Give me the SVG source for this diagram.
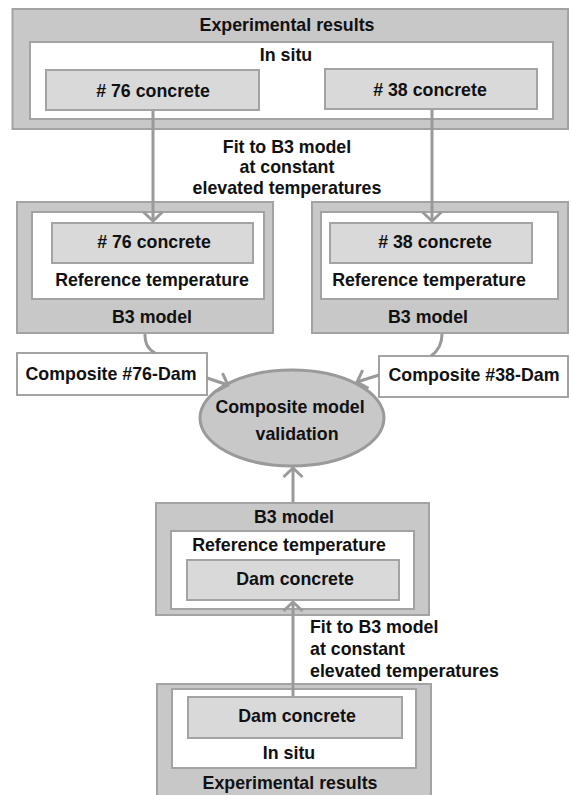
<svg xmlns="http://www.w3.org/2000/svg" width="571" height="795" viewBox="0 0 571 795">
<style>
text{font-family:"Liberation Sans",Arial,sans-serif;font-weight:bold;font-size:17.8px;fill:#111;text-anchor:middle;dominant-baseline:central}
.outer{fill:#c8c8c8;stroke:#a3a3a3;stroke-width:2}
.inner{fill:#fff;stroke:#a3a3a3;stroke-width:2}
.item{fill:#d9d9d9;stroke:#a3a3a3;stroke-width:2}
.lbl{fill:#fff;stroke:#a3a3a3;stroke-width:2}
.conn{fill:none;stroke:#9a9a9a;stroke-width:3}
.st{text-anchor:start}
</style>
<defs>
<marker id="v" markerUnits="userSpaceOnUse" viewBox="-1 -11 12 22" refX="9" refY="0" markerWidth="12" markerHeight="22" orient="auto" overflow="visible">
<path d="M0,-9.5 L9,0 L0,9.5" fill="none" stroke="#9a9a9a" stroke-width="3"/>
</marker>
</defs>

<g id="exp-top">
<rect class="outer" x="12.5" y="9" width="555.5" height="120"/>
<text x="287" y="25">Experimental results</text>
<rect class="inner" x="30" y="42" width="523" height="77"/>
<text x="286" y="55">In situ</text>
</g>
<g id="c76-exp">
<rect class="item" x="46" y="70" width="213" height="40"/>
<text x="153" y="91">#&#160;76 concrete</text>
</g>
<g id="c38-exp">
<rect class="item" x="325" y="69" width="212" height="40"/>
<text x="430" y="90">#&#160;38 concrete</text>
</g>

<g id="fit-top">
<text x="287" y="147">Fit to B3 model</text>
<text x="287" y="167">at constant</text>
<text x="287" y="188">elevated temperatures</text>
</g>

<g id="b3-left">
<rect class="outer" x="17" y="202" width="256" height="131"/>
<rect class="inner" x="32" y="212" width="232" height="87"/>
<rect class="item" x="52" y="223" width="201" height="40"/>
<text x="154" y="242">#&#160;76 concrete</text>
<text x="152" y="280">Reference temperature</text>
<text x="152" y="317">B3 model</text>
</g>

<g id="b3-right">
<rect class="outer" x="312" y="202" width="256" height="131"/>
<rect class="inner" x="321" y="212" width="237" height="87"/>
<rect class="item" x="330" y="223" width="202" height="40"/>
<text x="435" y="242">#&#160;38 concrete</text>
<text x="429" y="280">Reference temperature</text>
<text x="428" y="317">B3 model</text>
</g>

<g id="comp76">
<rect class="lbl" x="17" y="353" width="190" height="42"/>
<text x="111" y="374">Composite #76-Dam</text>
</g>
<g id="comp38">
<rect class="lbl" x="379" y="356" width="189" height="41"/>
<text x="474" y="375">Composite #38-Dam</text>
</g>

<g id="validation">
<ellipse cx="292" cy="418" rx="92" ry="48" fill="#c8c8c8" stroke="#9a9a9a" stroke-width="3"/>
<text x="290" y="407">Composite model</text>
<text x="297" y="434">validation</text>
</g>

<g id="b3-dam">
<rect class="outer" x="156" y="503" width="273" height="112"/>
<text x="294" y="517">B3 model</text>
<rect class="inner" x="171" y="531" width="243" height="78"/>
<text x="289" y="545">Reference temperature</text>
<rect class="item" x="187" y="560" width="212" height="40"/>
<text x="295" y="579">Dam concrete</text>
</g>

<g id="fit-bottom">
<text class="st" x="310" y="627">Fit to B3 model</text>
<text class="st" x="310" y="649">at constant</text>
<text class="st" x="310" y="671">elevated temperatures</text>
</g>

<g id="exp-dam">
<rect class="outer" x="157" y="684" width="274" height="120"/>
<rect class="inner" x="172" y="689" width="244" height="79"/>
<rect class="item" x="188" y="697" width="214" height="41"/>
<text x="297" y="716">Dam concrete</text>
<text x="289" y="753">In situ</text>
<text x="290" y="783">Experimental results</text>
</g>

<g id="connectors">
<path class="conn" d="M153,111 V221" marker-end="url(#v)"/>
<path class="conn" d="M432,110 V221" marker-end="url(#v)"/>
<path class="conn" d="M145,334 C145,344 148,349 155,353"/>
<path class="conn" d="M442,334 C442,345 438,351 431,356"/>
<path class="conn" d="M207,378 L228,385" marker-end="url(#v)"/>
<path class="conn" d="M379,375 L357,382" marker-end="url(#v)"/>
<path class="conn" d="M293,502 V468" marker-end="url(#v)"/>
<path class="conn" d="M293,696 V602" marker-end="url(#v)"/>
</g>
</svg>
